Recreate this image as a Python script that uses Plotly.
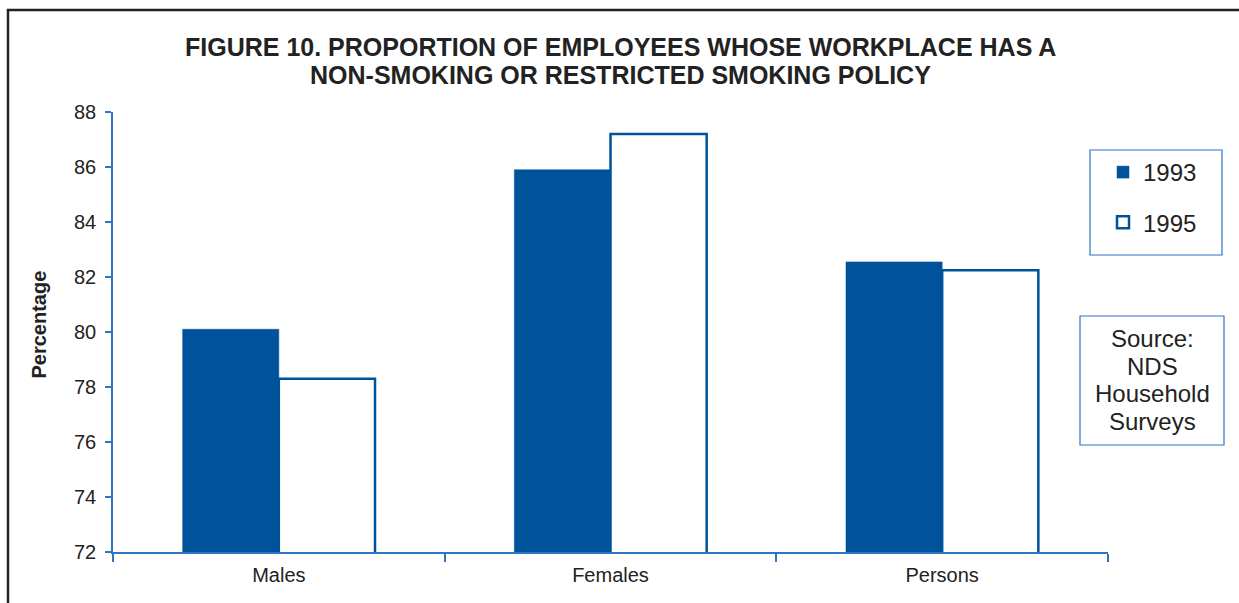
import plotly.graph_objects as go

categories = ["Males", "Females", "Persons"]
values_1993 = [80.1, 85.9, 82.55]
values_1995 = [78.3, 87.2, 82.25]
y_ticks = [72, 74, 76, 78, 80, 82, 84, 86, 88]
title_lines = ["FIGURE 10. PROPORTION OF EMPLOYEES WHOSE WORKPLACE HAS A",
               "NON-SMOKING OR RESTRICTED SMOKING POLICY"]
source_lines = ["Source:", "NDS", "Household", "Surveys"]
y_title = "Percentage"

BLUE = "#00529B"
AXIS = "#2F74C0"
TXT = "#222222"
FONT = "Liberation Sans, Arial, sans-serif"

fig = go.Figure()
fig.add_trace(go.Bar(
    x=categories, y=values_1993, name="1993", legendgroup="a",
    marker=dict(color=BLUE, line=dict(color=BLUE, width=0.5)),
))
fig.add_trace(go.Bar(
    x=categories, y=values_1995, name="1995", legendgroup="b",
    marker=dict(color="white", line=dict(color=BLUE, width=2.5)),
))

L, R, T, B = 113, 131, 112, 51
W, H = 1239, 603
pw, ph = W - L - R, H - T - B

def px_x(p):
    return (p - L) / pw

def px_y(p):
    return (H - B - p) / ph

fig.update_layout(
    width=W, height=H,
    margin=dict(l=L, r=R, t=T, b=B, pad=0),
    paper_bgcolor="white", plot_bgcolor="white",
    barmode="group", bargap=0.42, bargroupgap=0,
    font=dict(family=FONT, color=TXT, size=20),
    xaxis=dict(
        showline=True, linecolor=AXIS, linewidth=1.5,
        ticks="outside", tickson="boundaries", ticklen=8, tickcolor=AXIS, tickwidth=1.5,
        tickfont=dict(size=20, color=TXT), showgrid=False, zeroline=False,
        ticklabelstandoff=4,
    ),
    yaxis=dict(
        range=[72, 88], tickvals=y_ticks, showline=True, linecolor=AXIS, linewidth=1.5,
        ticks="outside", ticklen=6, tickcolor=AXIS, tickwidth=1.5,
        tickfont=dict(size=20, color=TXT), showgrid=False, zeroline=False,
        ticklabelstandoff=5,
    ),
    legend=dict(
        x=px_x(1103), y=px_y(150), xanchor="left", yanchor="top",
        borderwidth=0, bgcolor="rgba(0,0,0,0)",
        font=dict(size=24, color=TXT), tracegroupgap=16,
        itemwidth=30,
    ),
    showlegend=True,
)

# title lines
for line, ypix in zip(title_lines, [47, 75]):
    fig.add_annotation(
        x=px_x(620), xref="paper", y=px_y(ypix), yref="paper",
        text=line, showarrow=False, xanchor="center", yanchor="middle",
        font=dict(size=25, color=TXT, family=FONT, weight="bold"),
    )

# y-axis title
fig.add_annotation(
    x=px_x(38.5), xref="paper", y=px_y(325), yref="paper",
    text=y_title, showarrow=False, textangle=-90,
    xanchor="center", yanchor="middle",
    font=dict(size=20, color=TXT, family=FONT, weight="bold"),
)

# legend frame
fig.add_shape(
    type="rect", xref="paper", yref="paper",
    x0=px_x(1090), x1=px_x(1222), y0=px_y(150), y1=px_y(255),
    line=dict(color=AXIS, width=1.2), fillcolor="rgba(0,0,0,0)",
)

# source box
fig.add_shape(
    type="rect", xref="paper", yref="paper",
    x0=px_x(1080), x1=px_x(1224), y0=px_y(316), y1=px_y(445),
    line=dict(color=AXIS, width=1.2), fillcolor="white",
)
for line, ypix in zip(source_lines, [338, 366, 393, 421]):
    fig.add_annotation(
        x=px_x(1152), xref="paper", y=px_y(ypix), yref="paper",
        text=line, showarrow=False, xanchor="center", yanchor="middle",
        font=dict(size=24, color=TXT, family=FONT),
    )

# outer frame
fig.add_shape(
    type="rect", xref="paper", yref="paper",
    x0=px_x(8), x1=px_x(1250), y0=px_y(10), y1=px_y(615),
    line=dict(color="#222222", width=2.5), fillcolor="rgba(0,0,0,0)", layer="above",
)

fig.write_html("out.html")
